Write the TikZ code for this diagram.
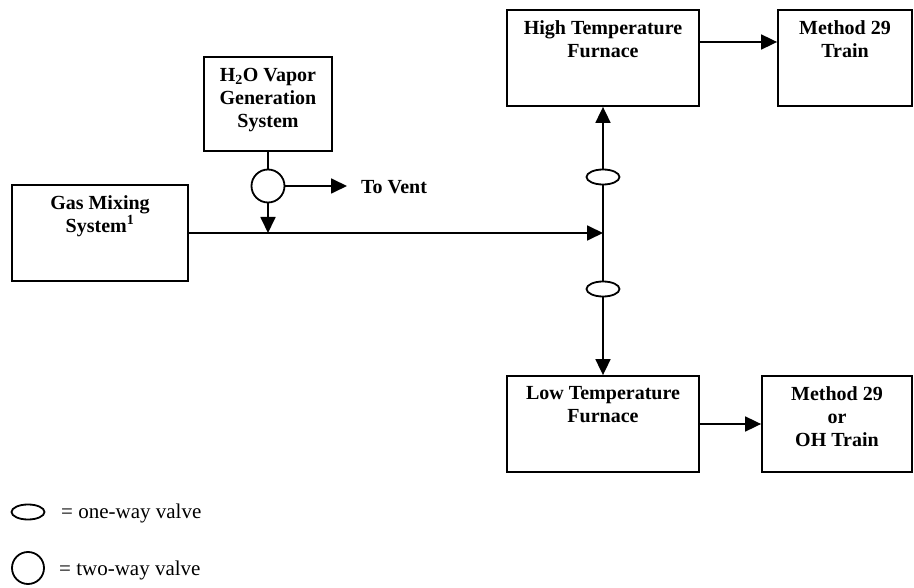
\documentclass[tikz,border=0pt]{standalone}
\usepackage{fontspec}
\setmainfont{Liberation Serif}
\usetikzlibrary{arrows.meta,positioning,shapes.geometric}

\tikzset{
  blk/.style={draw,line width=1.8pt,minimum width=#1,inner sep=0pt},
  ttl/.style={font=\fontsize{20}{23}\selectfont\bfseries,align=center,inner sep=0pt},
  flow/.style={line width=1.8pt,-{Triangle[length=16pt,width=15pt]}},
  pipe/.style={line width=1.8pt},
  oneway/.style={draw,line width=1.8pt,ellipse,minimum width=33pt,minimum height=15pt,inner sep=0pt,fill=white},
  twoway/.style={draw,line width=1.8pt,circle,minimum size=33pt,inner sep=0pt,fill=white},
  leg/.style={font=\fontsize{21}{24}\selectfont,anchor=west,inner sep=0pt}
}

\begin{document}
\begin{tikzpicture}[x=1pt,y=-1pt]
  \useasboundingbox (0,0) rectangle (914,588);

  % boxes
  \node[blk=176pt,minimum height=96pt] (gas) at (100,233) {};
  \node[blk=128pt,minimum height=94pt] (h2o) at (268,104) {};
  \node[blk=192pt,minimum height=96pt] (hi) at (603,58) {};
  \node[blk=134pt,minimum height=96pt] (mt) at (845,58) {};
  \node[blk=192pt,minimum height=96pt] (lo) at (603,424) {};
  \node[blk=150pt,minimum height=96pt] (oh) at (837,424) {};

  \node[ttl,below=11pt of gas.north] {Gas Mixing\\System\textsuperscript{1}};
  \node[ttl,below=12pt of h2o.north] {H\textsubscript{2}O Vapor\\Generation\\System};
  \node[ttl,below=11pt of hi.north] {High Temperature\\Furnace};
  \node[ttl,below=11pt of mt.north] {Method 29\\Train};
  \node[ttl,below=11pt of lo.north] {Low Temperature\\Furnace};
  \node[ttl,below=11pt of oh.north] {Method 29\\or\\OH Train};

  % valves and junctions
  \node[twoway] (tv) at (268,186) {};
  \node[oneway] (up) at (603,177) {};
  \node[oneway] (dn) at (603,289) {};
  \coordinate (jw) at (268,233);
  \coordinate (je) at (603,233);
  \coordinate (vent) at (347,186);
  \node[ttl,anchor=west] (vtxt) at (361,187) {To Vent};

  % connectors
  \draw[pipe] (h2o.south) -- (tv.north);
  \draw[flow] (tv.south) -- (jw);
  \draw[flow] (tv.east) -- (vent);
  \draw[flow] (gas.east) -- (je);
  \draw[pipe] (je) -- (up.south);
  \draw[flow] (up.north) -- (hi.south);
  \draw[pipe] (je) -- (dn.north);
  \draw[flow] (dn.south) -- (lo.north);
  \draw[flow] ([yshift=16pt]hi.east) -- ([yshift=16pt]mt.west);
  \draw[flow] (lo.east) -- (oh.west);

  % legend
  \node[oneway] (k1) at (28,512) {};
  \node[leg] (k1t) at (61,513) {= one-way valve};
  \node[twoway,minimum size=32pt] (k2) at (28,568) {};
  \node[leg] (k2t) at (59,570) {= two-way valve};
\end{tikzpicture}
\end{document}
